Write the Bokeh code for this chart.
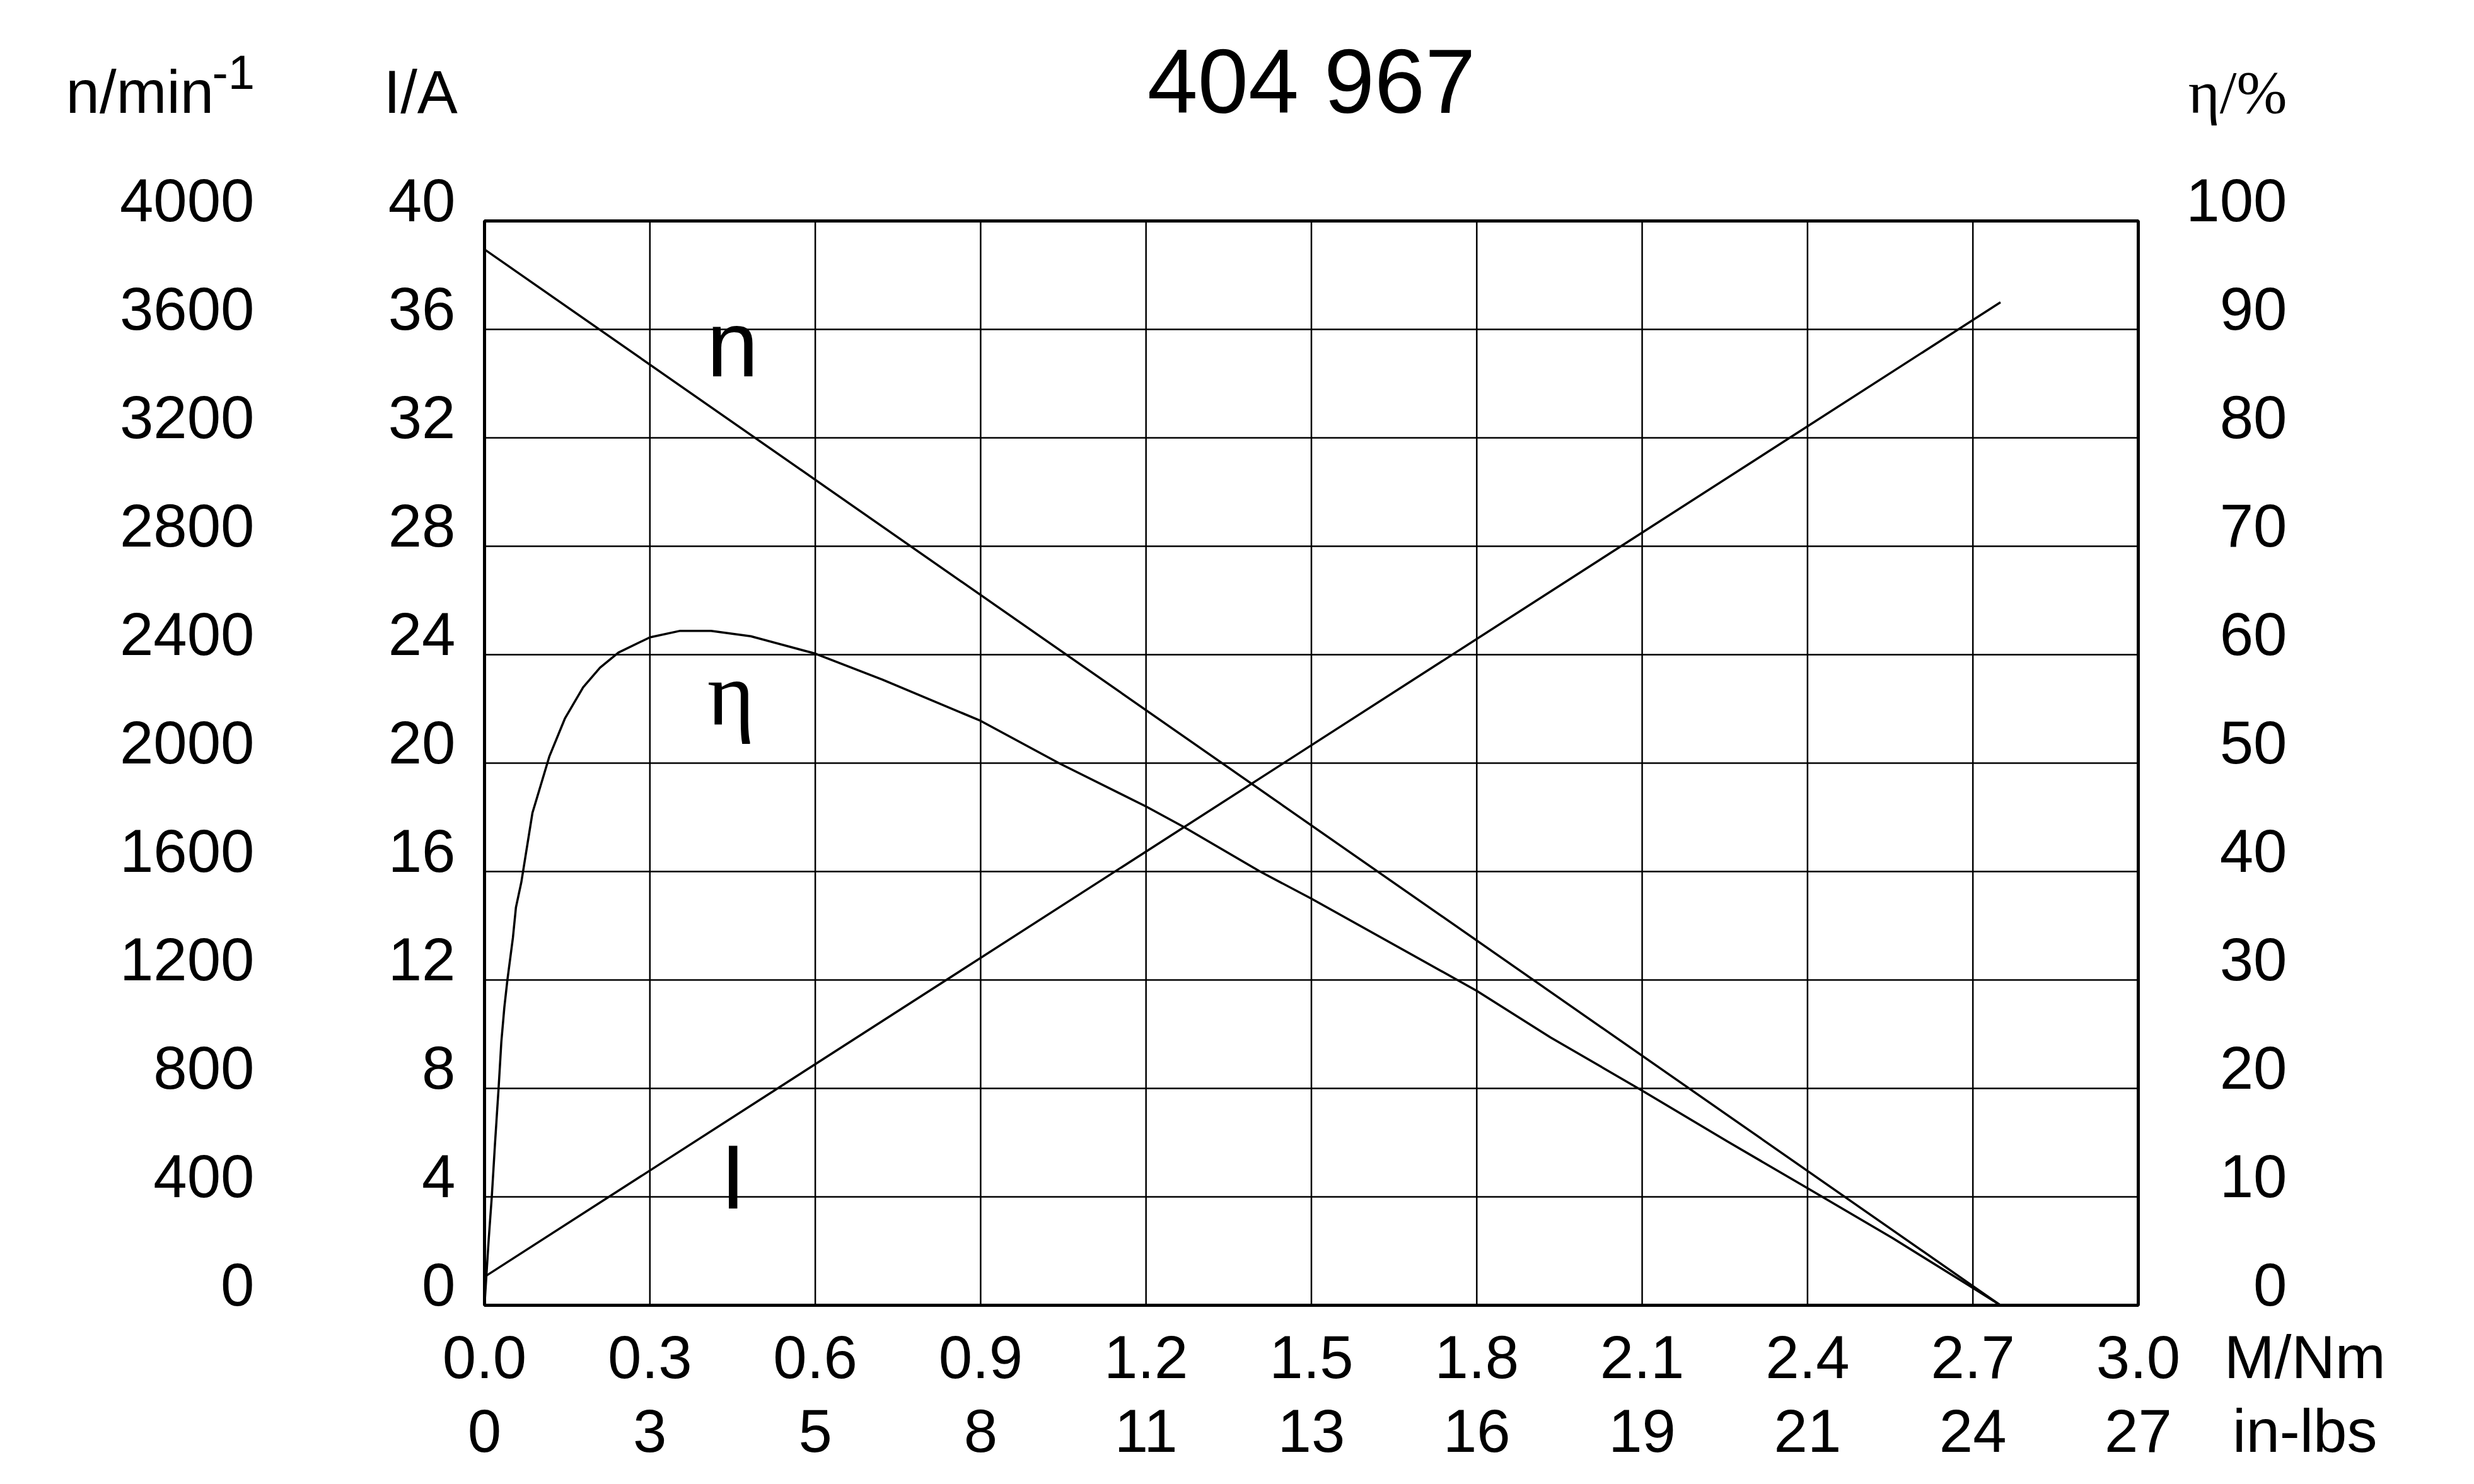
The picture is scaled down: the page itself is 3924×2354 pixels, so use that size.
from bokeh.plotting import figure
from bokeh.models import Range1d, LabelSet, ColumnDataSource
from bokeh.core.properties import value
from bokeh.embed import file_html
from bokeh.resources import INLINE

# ---------------- data ----------------
title_text = "404 967"
torque_ticks = [0.0, 0.3, 0.6, 0.9, 1.2, 1.5, 1.8, 2.1, 2.4, 2.7, 3.0]
torque_labels = ["0.0", "0.3", "0.6", "0.9", "1.2", "1.5", "1.8", "2.1", "2.4", "2.7", "3.0"]
inlbs_labels = ["0", "3", "5", "8", "11", "13", "16", "19", "21", "24", "27"]
speed_ticks = [0, 400, 800, 1200, 1600, 2000, 2400, 2800, 3200, 3600, 4000]
current_ticks = [0, 4, 8, 12, 16, 20, 24, 28, 32, 36, 40]
eff_ticks = [0, 10, 20, 30, 40, 50, 60, 70, 80, 90, 100]

# speed n [1/min] vs torque M [Nm]
n_M = [0.0, 2.75]
n_val = [3895, 0]
# current I [A] vs torque
I_M = [0.0, 2.75]
I_val = [1.05, 37.0]
# efficiency eta [%] vs torque
eta_M = [0.0, 0.0076, 0.0133, 0.019, 0.0255, 0.0305, 0.036, 0.0415, 0.0515, 0.057,
         0.0667, 0.0869, 0.1175, 0.1457, 0.179, 0.2095, 0.243, 0.3, 0.355, 0.411,
         0.483, 0.6, 0.722, 0.9, 1.042, 1.2, 1.269, 1.407, 1.5, 1.8, 1.934, 2.1,
         2.255, 2.4, 2.554, 2.7, 2.75]
eta_val = [0.0, 6.1, 10.1, 14.9, 20.0, 24.3, 27.5, 30.0, 33.9, 36.7,
           39.0, 45.4, 50.6, 54.1, 57.0, 58.8, 60.2, 61.6, 62.2, 62.2,
           61.7, 60.1, 57.7, 53.9, 50.0, 46.0, 44.1, 40.0, 37.5, 29.0, 24.7, 19.8,
           15.1, 10.8, 6.2, 1.6, 0.0]

# ---------------- layout (pixels) ----------------
W, H = 3916, 2346
CHART_L, CHART_R, CHART_T, CHART_B = 768, 3391, 350, 2070

x0, x1 = torque_ticks[0], torque_ticks[-1]
def span_range(lo, hi, p_lo, p_hi, total, flip=False):
    k = (hi - lo) / (p_hi - p_lo)
    if flip:  # pixel grows downward, value grows upward
        return Range1d(lo - (total - p_hi) * k, hi + p_lo * k)
    return Range1d(lo - p_lo * k, hi + (total - p_hi) * k)

xr = span_range(x0, x1, CHART_L, CHART_R, W)
yr_I = span_range(current_ticks[0], current_ticks[-1], CHART_T, CHART_B, H, flip=True)
yr_n = span_range(speed_ticks[0], speed_ticks[-1], CHART_T, CHART_B, H, flip=True)
yr_eta = span_range(eff_ticks[0], eff_ticks[-1], CHART_T, CHART_B, H, flip=True)

SANS_NAME = "Liberation Sans"
SERIF_NAME = "Liberation Serif"

p = figure(width=W, height=H, output_backend="svg", toolbar_location=None,
           x_range=xr, y_range=yr_I, x_axis_location=None, y_axis_location=None,
           min_border=0)
p.extra_y_ranges = {"n": yr_n, "eta": yr_eta}
p.background_fill_color = "white"
p.border_fill_color = "white"
p.outline_line_color = None
p.xgrid.visible = False
p.ygrid.visible = False

# grid lines from the tick arrays
nx = len(torque_ticks)
ny = len(current_ticks)
p.segment(x0=torque_ticks, y0=[current_ticks[0]] * nx, x1=torque_ticks, y1=[current_ticks[-1]] * nx,
          line_color="black", line_width=2.5)
p.segment(x0=[x0] * ny, y0=current_ticks, x1=[x1] * ny, y1=current_ticks,
          line_color="black", line_width=2.5)

# curves
p.line(n_M, n_val, y_range_name="n", line_color="black", line_width=3.5)
p.line(I_M, I_val, line_color="black", line_width=3.5)
p.line(eta_M, eta_val, y_range_name="eta", line_color="black", line_width=3.5)

# chart border
p.quad(left=[x0], right=[x1], bottom=[current_ticks[0]], top=[current_ticks[-1]],
       fill_color=None, line_color="black", line_width=5)

FS = "96px"

def texts(xs, ys, ts, xo=0, yo=0, align="left", rng="default", font=SANS_NAME, size=FS):
    return LabelSet(x="x", y="y", text="t", y_range_name=rng,
                    source=ColumnDataSource(dict(x=xs, y=ys, t=ts)),
                    x_offset=xo, y_offset=yo, text_align=align, text_baseline="alphabetic",
                    text_font=value(font), text_font_size=size, text_color="black")

# left: speed tick labels
p.add_layout(texts([x0] * len(speed_ticks), speed_ticks, [str(v) for v in speed_ticks],
                   -365, 0, "right", "n"))
# left: current tick labels
p.add_layout(texts([x0] * len(current_ticks), current_ticks, [str(v) for v in current_ticks],
                   -46, 0, "right"))
# right: efficiency tick labels
p.add_layout(texts([x1] * len(eff_ticks), eff_ticks, [str(v) for v in eff_ticks],
                   236, 0, "right", "eta"))
# bottom: torque rows
y_bot = current_ticks[0]
p.add_layout(texts(torque_ticks, [y_bot] * nx, torque_labels, 0, -115, "center"))
p.add_layout(texts(torque_ticks, [y_bot] * nx, inlbs_labels, 0, -232, "center"))

# unit labels sit one tick step right of the last tick
step = torque_ticks[1] - torque_ticks[0]
p.add_layout(texts([x1 + step], [y_bot], ["M/Nm"], 2, -115, "center"))
p.add_layout(texts([x1 + step], [y_bot], ["in-lbs"], 2, -232, "center"))

# axis titles on top
top = current_ticks[-1]
p.add_layout(texts([x0], [top], ["n/min"], -664, 172, "left"))
p.add_layout(texts([x0], [top], ["-1"], -432, 210, "left", size="76px"))
p.add_layout(texts([x0], [top], ["I/A"], -160, 172, "left"))
p.add_layout(texts([x1], [top], ["η/%"], 236, 172, "right", font=SERIF_NAME))

# chart title
p.add_layout(texts([(x0 + x1) / 2], [top], [title_text], 0, 172, "center", size="144px"))

# curve names
p.add_layout(texts([0.45], [34.26], ["n"], align="center", size="148px"))
p.add_layout(texts([0.447], [21.44], ["η"], align="center", font=SERIF_NAME, size="144px"))
p.add_layout(texts([0.451], [3.56], ["I"], align="center", size="144px"))

open("out.html", "w").write(file_html(p, INLINE))
